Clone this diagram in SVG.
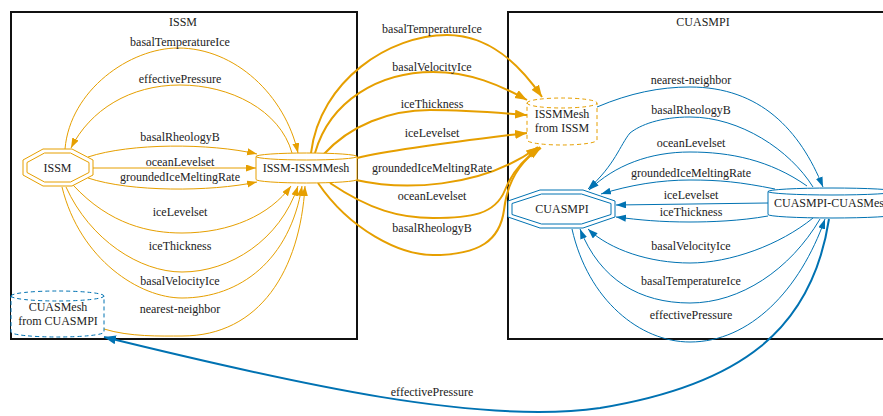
<svg xmlns="http://www.w3.org/2000/svg" width="883" height="416" viewBox="0 0 883 416" font-family="'Liberation Serif', 'Times New Roman', serif">
<defs>
<style>
text{font-family:'Liberation Serif','Times New Roman',serif;font-size:12px;fill:#222;text-anchor:middle}
.cl{fill:none;stroke:#111;stroke-width:2}
.o{fill:none;stroke:#E69F00;stroke-width:1}
.ot{fill:none;stroke:#E69F00;stroke-width:2}
.b{fill:none;stroke:#0072B2;stroke-width:1}
.bt{fill:none;stroke:#0072B2;stroke-width:2}
.on{fill:#fff;stroke:#E69F00;stroke-width:1}
.bn{fill:#fff;stroke:#0072B2;stroke-width:1}
.dash{stroke-dasharray:4,3}
</style>
<marker id="ao" markerUnits="userSpaceOnUse" markerWidth="11" markerHeight="8" refX="10" refY="3.5" orient="auto"><path d="M0,0 L10,3.5 L0,7 Z" fill="#E69F00"/></marker>
<marker id="aob" markerUnits="userSpaceOnUse" markerWidth="13" markerHeight="10" refX="12" refY="4.5" orient="auto"><path d="M0,0 L12,4.5 L0,9 Z" fill="#E69F00"/></marker>
<marker id="ab" markerUnits="userSpaceOnUse" markerWidth="11" markerHeight="8" refX="10" refY="3.5" orient="auto"><path d="M0,0 L10,3.5 L0,7 Z" fill="#0072B2"/></marker>
<marker id="abb" markerUnits="userSpaceOnUse" markerWidth="13" markerHeight="10" refX="12" refY="4.5" orient="auto"><path d="M0,0 L12,4.5 L0,9 Z" fill="#0072B2"/></marker>
</defs>
<rect width="883" height="416" fill="#fff"/>
<g id="cluster_ISSM">
<rect class="cl" x="11" y="12" width="346" height="327"/>
<text x="183" y="26">ISSM</text>
</g>
<g id="cluster_CUASMPI">
<rect class="cl" x="508" y="12" width="400" height="327"/>
<text x="703" y="26">CUASMPI</text>
</g>
<g id="edges">
<path class="o" marker-end="url(#ao)" d="M65,149 C70,90 130,48 178,48 C235,48 285,95 298,153"/>
<text x="180" y="46">basalTemperatureIce</text>
<path class="o" marker-end="url(#ao)" d="M292,153 C280,110 230,85 180,85 C130,85 90,110 71,148"/>
<text x="180" y="83">effectivePressure</text>
<path class="o" marker-end="url(#ao)" d="M88,157 C130,143 210,143 257,154"/>
<text x="180" y="141">basalRheologyB</text>
<path class="o" marker-end="url(#ao)" d="M93,168 L256,168"/>
<text x="180" y="166">oceanLevelset</text>
<path class="o" marker-end="url(#ao)" d="M88,178 C130,192 210,192 257,182"/>
<text x="180" y="181">groundedIceMeltingRate</text>
<path class="o" marker-end="url(#ao)" d="M73,185 C110,225 150,233 182,233 C230,233 270,215 291,186"/>
<text x="180" y="216">iceLevelset</text>
<path class="o" marker-end="url(#ao)" d="M66,187 C90,240 140,272 182,272 C230,272 280,240 298,186"/>
<text x="180" y="250">iceThickness</text>
<path class="o" marker-end="url(#ao)" d="M62,187 C80,260 140,298 182,298 C240,298 290,260 302,186"/>
<text x="180" y="285">basalVelocityIce</text>
<path class="o" marker-end="url(#ao)" d="M104,329 C130,337 160,336 182,336 C260,336 300,270 305,186"/>
<text x="180" y="313">nearest-neighbor</text>
<path class="ot" marker-end="url(#aob)" d="M311,153 C320,80 390,35 447,35 C490,35 520,65 542,97"/>
<text x="432" y="33">basalTemperatureIce</text>
<path class="ot" marker-end="url(#aob)" d="M315,153 C330,100 380,72 433,72 C470,72 500,85 527,100"/>
<text x="432" y="71">basalVelocityIce</text>
<path class="ot" marker-end="url(#aob)" d="M323,155 C350,125 390,110 430,110 C470,110 500,113 527,115"/>
<text x="432" y="108">iceThickness</text>
<path class="ot" marker-end="url(#aob)" d="M357,158 C400,148 470,140 527,133"/>
<text x="432" y="137">iceLevelset</text>
<path class="ot" marker-end="url(#aob)" d="M356,180 C400,190 480,190 538,147"/>
<text x="432" y="172">groundedIceMeltingRate</text>
<path class="ot" marker-end="url(#aob)" d="M330,183 C370,210 400,218 433,218 C470,218 495,215 505,190 C512,172 525,158 540,147"/>
<text x="432" y="200">oceanLevelset</text>
<path class="ot" marker-end="url(#aob)" d="M318,183 C350,230 400,255 433,255 C480,255 500,240 504,210 C508,175 525,158 541,148"/>
<text x="432" y="232">basalRheologyB</text>
<path class="b" marker-end="url(#ab)" d="M597,107 C630,93 660,87 690,87 C760,87 800,130 823,187"/>
<text x="691" y="84">nearest-neighbor</text>
<path class="b" marker-end="url(#ab)" d="M813,187 C790,150 740,117 690,117 C660,117 640,125 630,133 C620,145 615,165 588,189"/>
<text x="691" y="114">basalRheologyB</text>
<path class="b" marker-end="url(#ab)" d="M807,186 C770,160 730,152 690,152 C650,152 615,165 589,190"/>
<text x="691" y="147">oceanLevelset</text>
<path class="b" marker-end="url(#ab)" d="M775,189 C740,182 720,180 690,180 C660,180 630,185 601,194"/>
<text x="691" y="177">groundedIceMeltingRate</text>
<path class="b" marker-end="url(#ab)" d="M768,203 L616,205"/>
<text x="691" y="199">iceLevelset</text>
<path class="b" marker-end="url(#ab)" d="M768,216 C740,221 710,222 690,222 C660,222 640,220 616,217"/>
<text x="691" y="216">iceThickness</text>
<path class="b" marker-end="url(#ab)" d="M813,218 C780,245 730,263 690,263 C650,263 610,250 588,229"/>
<text x="691" y="250">basalVelocityIce</text>
<path class="b" marker-end="url(#ab)" d="M820,219 C790,270 740,303 690,303 C640,303 600,280 580,229"/>
<text x="691" y="285">basalTemperatureIce</text>
<path class="b" marker-end="url(#ab)" d="M572,229 C588,300 640,342 690,342 C750,342 800,290 825,219"/>
<text x="691" y="319">effectivePressure</text>
<path class="bt" marker-end="url(#abb)" d="M829,219 C812,330 740,385 600,408 C480,425 300,385 104,337"/>
<text x="432" y="396">effectivePressure</text>
</g>
<g id="node_ISSM">
<polygon class="on" points="43,149 72,149 93,160 93,175 72,186 43,186 23,175 23,160"/>
<polygon class="on" points="44.5,153 70.5,153 89,162.5 89,172.5 70.5,182 44.5,182 27,172.5 27,162.5"/>
<text x="57.5" y="172">ISSM</text>
</g>
<g id="node_ISSM-ISSMMesh">
<path class="on" d="M256,156.5 A50.5,3.5 0 0 1 357,156.5 L357,179.5 A50.5,3.5 0 0 1 256,179.5 Z M256,156.5 A50.5,3.5 0 0 0 357,156.5"/>
<text x="306" y="172">ISSM-ISSMMesh</text>
</g>
<g id="node_ISSMMesh_from_ISSM">
<path class="on dash" d="M527,103 A35,5 0 0 1 597,103 L597,140 A35,5 0 0 1 527,140 Z M527,103 A35,5 0 0 0 597,103"/>
<text x="562" y="118">ISSMMesh</text>
<text x="562" y="132">from ISSM</text>
</g>
<g id="node_CUASMesh_from_CUASMPI">
<path class="bn dash" d="M11,296 A46.5,5 0 0 1 104,296 L104,332 A46.5,5 0 0 1 11,332 Z M11,296 A46.5,5 0 0 0 104,296"/>
<text x="58" y="311">CUASMesh</text>
<text x="58" y="325">from CUASMPI</text>
</g>
<g id="node_CUASMPI">
<polygon class="bn" points="540,190 583,190 615,201 615,217 583,228 540,228 508,217 508,201"/>
<polygon class="bn" points="541.5,194 581.5,194 611,203.5 611,214.5 581.5,224 541.5,224 512,214.5 512,203.5"/>
<text x="562" y="213">CUASMPI</text>
</g>
<g id="node_CUASMPI-CUASMesh">
<path class="bn" d="M768,191.5 A64,3.5 0 0 1 896,191.5 L896,214.5 A64,3.5 0 0 1 768,214.5 Z M768,191.5 A64,3.5 0 0 0 896,191.5"/>
<text x="832" y="207">CUASMPI-CUASMesh</text>
</g>
</svg>
